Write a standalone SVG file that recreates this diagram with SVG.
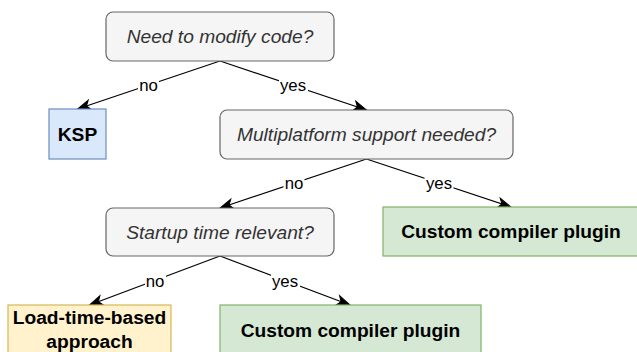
<svg xmlns="http://www.w3.org/2000/svg" width="637" height="352" viewBox="0 0 637 352">
<style>
.q{fill:#f5f5f5;stroke:#666666;stroke-width:1.2}
.qt{font-family:"Liberation Sans",Arial,sans-serif;font-size:19.2px;font-style:italic;fill:#333333;text-anchor:middle}
.bt{font-family:"Liberation Sans",Arial,sans-serif;font-size:19.2px;font-weight:bold;fill:#000000;text-anchor:middle}
.blue{fill:#dae8fc;stroke:#6c8ebf;stroke-width:1.2}
.green{fill:#d5e8d4;stroke:#82b366;stroke-width:1.2}
.yellow{fill:#fff2cc;stroke:#d6b656;stroke-width:1.2}
.e{stroke:#000000;stroke-width:1.2;fill:none;marker-end:url(#arr)}
.lb{fill:#ffffff}
.lt{font-family:"Liberation Sans",Arial,sans-serif;font-size:16.8px;fill:#000000;text-anchor:middle}
</style>
<defs>
<marker id="arr" markerUnits="userSpaceOnUse" markerWidth="14" markerHeight="12" refX="13" refY="5" orient="auto" overflow="visible">
<path d="M0,0 L13,5 L0,10 L3.5,5 Z" fill="#000000" stroke="#000000" stroke-width="1"/>
</marker>
</defs>
<g id="connectors">
<line class="e" x1="220" y1="61" x2="77.5" y2="109"/>
<line class="e" x1="220" y1="61" x2="366.5" y2="110"/>
<line class="e" x1="366.5" y1="159" x2="220" y2="208"/>
<line class="e" x1="366.5" y1="159" x2="511" y2="207"/>
<line class="e" x1="220" y1="256" x2="89.5" y2="305"/>
<line class="e" x1="220" y1="256" x2="350" y2="305"/>
<rect class="lb" x="138" y="77" width="21" height="17"/>
<text class="lt" x="148.5" y="91">no</text>
<rect class="lb" x="279" y="77" width="29" height="17"/>
<text class="lt" x="293" y="91">yes</text>
<rect class="lb" x="283.5" y="175" width="21" height="17"/>
<text class="lt" x="294" y="189">no</text>
<rect class="lb" x="424.5" y="175" width="29" height="17"/>
<text class="lt" x="439" y="189">yes</text>
<rect class="lb" x="145" y="273" width="21" height="17"/>
<text class="lt" x="155" y="287">no</text>
<rect class="lb" x="271" y="273" width="29" height="17"/>
<text class="lt" x="285" y="287">yes</text>
</g>
<g id="n-modify">
<rect class="q" x="106" y="12" width="228" height="49" rx="7" ry="7"/>
<text class="qt" x="220" y="42.5">Need to modify code?</text>
</g>
<g id="n-ksp">
<rect class="blue" x="49" y="109" width="57" height="50"/>
<text class="bt" x="77.5" y="140.5">KSP</text>
</g>
<g id="n-multi">
<rect class="q" x="220" y="110" width="293" height="49" rx="7" ry="7"/>
<text class="qt" x="366.5" y="140.5">Multiplatform support needed?</text>
</g>
<g id="n-custom1">
<rect class="green" x="383" y="207" width="256" height="49"/>
<text class="bt" x="511" y="238">Custom compiler plugin</text>
</g>
<g id="n-startup">
<rect class="q" x="106" y="208" width="228" height="48" rx="7" ry="7"/>
<text class="qt" x="220" y="238.5">Startup time relevant?</text>
</g>
<g id="n-load">
<rect class="yellow" x="8" y="305" width="163" height="50"/>
<text class="bt" x="89.5" y="323.5">Load-time-based</text>
<text class="bt" x="89.5" y="347.5">approach</text>
</g>
<g id="n-custom2">
<rect class="green" x="220" y="305" width="261" height="50"/>
<text class="bt" x="350.5" y="336.5">Custom compiler plugin</text>
</g>
</svg>
